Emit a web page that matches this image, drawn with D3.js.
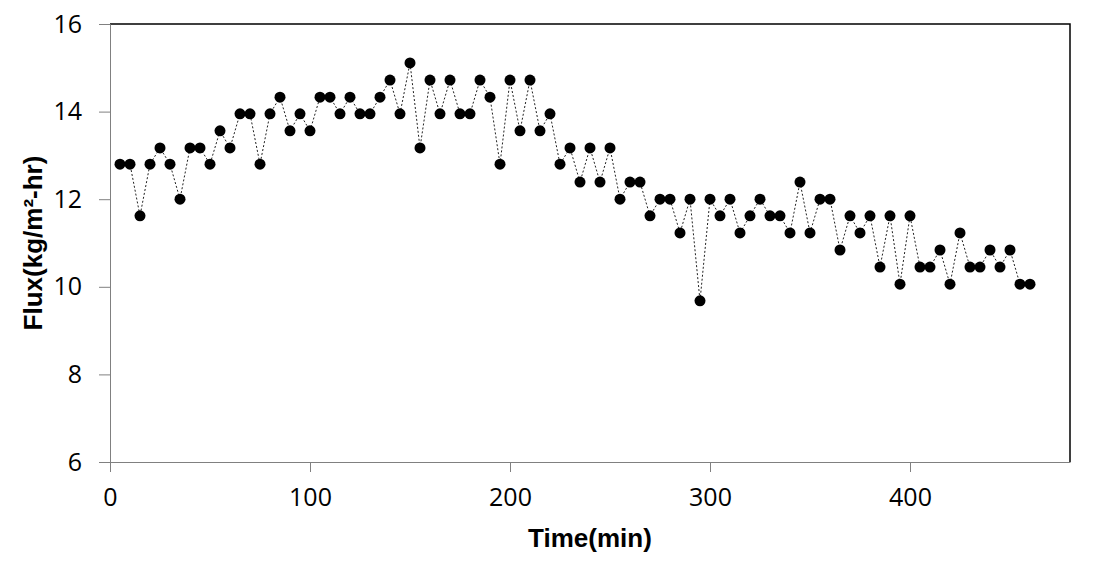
<!DOCTYPE html>
<html>
<head>
<meta charset="utf-8">
<script src="https://cdn.jsdelivr.net/npm/d3@7"></script>
<style>
  html, body { margin: 0; padding: 0; background: #fff; }
  svg { display: block; }
</style>
</head>
<body>
<svg width="1106" height="569"></svg>
<script>
// time (min) – one reading every 5 minutes
const times = d3.range(5, 461, 5);
// flux (kg/m2-hr)
const flux = [
  12.8, 12.8, 11.62, 12.8, 13.17, 12.8, 12.0, 13.17, 13.17, 12.8,
  13.56, 13.17, 13.95, 13.95, 12.8, 13.95, 14.33, 13.56, 13.95, 13.56,
  14.33, 14.33, 13.95, 14.33, 13.95, 13.95, 14.33, 14.72, 13.95, 15.11,
  13.17, 14.72, 13.95, 14.72, 13.95, 13.95, 14.72, 14.33, 12.8, 14.72,
  13.56, 14.72, 13.56, 13.95, 12.8, 13.17, 12.39, 13.17, 12.39, 13.17,
  12.0, 12.39, 12.39, 11.62, 12.0, 12.0, 11.23, 12.0, 9.68, 12.0,
  11.62, 12.0, 11.23, 11.62, 12.0, 11.62, 11.62, 11.23, 12.39, 11.23,
  12.0, 12.0, 10.84, 11.62, 11.23, 11.62, 10.45, 11.62, 10.06, 11.62,
  10.45, 10.45, 10.84, 10.06, 11.23, 10.45, 10.45, 10.84, 10.45, 10.84,
  10.06, 10.06
];
const xTicks = [0, 100, 200, 300, 400];
const yTicks = [6, 8, 10, 12, 14, 16];

const data = times.map((t, i) => ({ t: t, v: flux[i] }));

const svg = d3.select("svg");
const plot = { left: 110, right: 1070, top: 24, bottom: 462 };

const x = d3.scaleLinear().domain([0, 480]).range([plot.left, plot.right]);
const y = d3.scaleLinear().domain([6, 16]).range([plot.bottom, plot.top]);

// 上、右邊框 (黑色)
svg.append("path")
  .attr("d", `M${plot.left},${plot.top} H${plot.right} V${plot.bottom}`)
  .attr("fill", "none")
  .attr("stroke", "#000")
  .attr("stroke-width", 1.5);

// y 軸
const yAxis = svg.append("g")
  .attr("transform", `translate(${plot.left},0)`)
  .call(d3.axisLeft(y).tickValues(yTicks).tickSize(11).tickPadding(17));
yAxis.select(".domain").attr("stroke", "#808080");
yAxis.selectAll(".tick line").attr("stroke", "#808080");
yAxis.selectAll(".tick text")
  .attr("fill", "#000")
  .style("font-family", "'Open Sans', 'Noto Sans', sans-serif")
  .style("font-size", "25px");

// x 軸
const xAxis = svg.append("g")
  .attr("transform", `translate(0,${plot.bottom})`)
  .call(d3.axisBottom(x).tickValues(xTicks).tickSize(10).tickSizeOuter(0).tickPadding(16));
xAxis.select(".domain").attr("stroke", "#808080");
xAxis.selectAll(".tick line").attr("stroke", "#808080");
xAxis.selectAll(".tick text")
  .attr("fill", "#000")
  .style("font-family", "'Open Sans', 'Noto Sans', sans-serif")
  .style("font-size", "25px");

// 虛線連線
const line = d3.line().x(d => x(d.t)).y(d => y(d.v));
svg.append("path")
  .datum(data)
  .attr("fill", "none")
  .attr("stroke", "#222")
  .attr("stroke-width", 1)
  .attr("stroke-dasharray", "2,2")
  .attr("d", line);

// 資料點
svg.selectAll(".pt")
  .data(data)
  .join("circle")
  .attr("class", "pt")
  .attr("cx", d => x(d.t))
  .attr("cy", d => y(d.v))
  .attr("r", 5.5)
  .attr("fill", "#000");

// 軸標題
svg.append("text")
  .attr("x", (plot.left + plot.right) / 2)
  .attr("y", 547)
  .attr("text-anchor", "middle")
  .style("font-family", "'Liberation Sans', Arial, sans-serif")
  .style("font-weight", "bold")
  .style("font-size", "26px")
  .text("Time(min)");

svg.append("text")
  .attr("transform", `translate(42,${(plot.top + plot.bottom) / 2}) rotate(-90)`)
  .attr("text-anchor", "middle")
  .style("font-family", "'Liberation Sans', Arial, sans-serif")
  .style("font-weight", "bold")
  .style("font-size", "26px")
  .text("Flux(kg/m²-hr)");
</script>
</body>
</html>
